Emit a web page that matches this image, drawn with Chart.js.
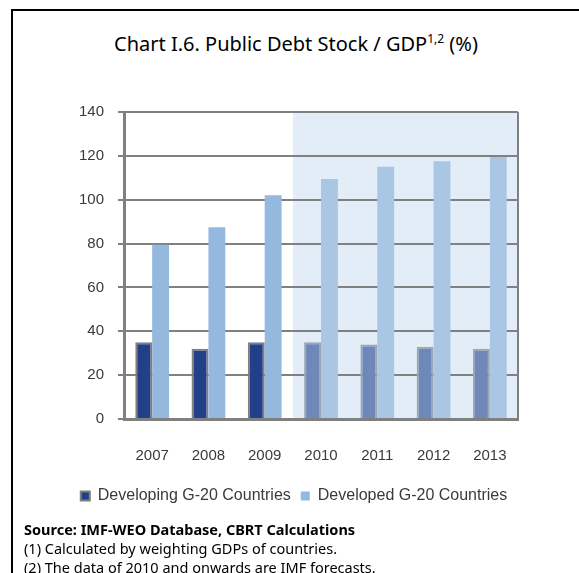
<!DOCTYPE html>
<html>
<head>
<meta charset="utf-8">
<script src="https://cdn.jsdelivr.net/npm/chart.js@4.4.0/dist/chart.umd.min.js"></script>
<style>
    body { margin: 0; background: #ffffff; width: 579px; height: 573px; overflow: hidden; position: relative; }
    .frame { position: absolute; left: 11px; top: 9px; width: 580px; height: 600px; border-left: 2px solid #000; border-top: 2px solid #000; }
    .title { position: absolute; left: 11px; width: 570px; top: 30px; text-align: center; font-family: 'Noto Sans', sans-serif; font-size: 20px; color: #000; }
    .title sup { font-size: 12px; }
    #wrap { position: absolute; left: 0; top: 0; width: 579px; height: 573px; }
    .notes { position: absolute; left: 24px; top: 520px; font-family: 'Noto Sans', sans-serif; font-size: 14.5px; color: #000; line-height: 19px; white-space: nowrap; }
    .notes b { font-size: 14.5px; }
</style>
</head>
<body>
<div class="frame"></div>
<div class="title">Chart I.6. Public Debt Stock / GDP<sup>1,2</sup> (%)</div>
<div id="wrap"><canvas id="debtChart"></canvas></div>
<div class="notes">
    <b>Source: IMF-WEO Database, CBRT Calculations</b><br>
    (1) Calculated by weighting GDPs of countries.<br>
    (2) The data of 2010 and onwards are IMF forecasts.
</div>
<script>
// Data
const years = ['2007', '2008', '2009', '2010', '2011', '2012', '2013'];
const developing = [35, 32, 35, 35, 34, 33, 32];
const developed = [79.5, 87.5, 102, 109.5, 115, 117.5, 119.5];
const firstForecast = 3; // 2010 onwards are IMF forecasts

document.addEventListener('DOMContentLoaded', function() {
    const colors = {
        dark: '#22408A',
        darkForecast: '#6E88B9',
        light: '#95B8DE',
        lightForecast: '#A9C7E5',
        grid: '#808080',
        shade: '#E3EDF7',
        text: '#3A3A3A'
    };

    // forecast band behind the grid
    const forecastBand = {
        id: 'forecastBand',
        beforeDraw(chart) {
            const { ctx, chartArea, scales } = chart;
            const x = scales.x;
            const start = (x.getPixelForTick(firstForecast - 1) + x.getPixelForTick(firstForecast)) / 2;
            ctx.save();
            ctx.fillStyle = colors.shade;
            ctx.fillRect(start, chartArea.top, chartArea.right - start, chartArea.bottom - chartArea.top);
            ctx.restore();
        },
        afterDatasetsDraw(chart) {
            const { ctx, chartArea } = chart;
            ctx.save();
            ctx.strokeStyle = colors.grid;
            ctx.lineWidth = 2;
            ctx.beginPath();
            ctx.moveTo(chartArea.right, chartArea.top);
            ctx.lineTo(chartArea.right, chartArea.bottom);
            ctx.stroke();
            ctx.restore();
        }
    };

    new Chart(document.getElementById('debtChart'), {
        type: 'bar',
        data: {
            labels: years,
            datasets: [{
                label: 'Developing G-20 Countries',
                data: developing,
                backgroundColor: c => c.dataIndex >= firstForecast ? colors.darkForecast : colors.dark,
                borderColor: c => c.dataIndex >= firstForecast ? '#9DA6B4' : '#7F7F7F',
                borderWidth: 2,
                categoryPercentage: 0.6,
                barPercentage: 1
            }, {
                label: 'Developed G-20 Countries',
                data: developed,
                backgroundColor: c => c.dataIndex >= firstForecast ? colors.lightForecast : colors.light,
                borderWidth: 0,
                categoryPercentage: 0.6,
                barPercentage: 1
            }]
        },
        options: {
            responsive: true,
            maintainAspectRatio: false,
            animation: false,
            layout: {
                padding: { left: 70, right: 61, top: 112, bottom: 59 }
            },
            plugins: {
                legend: {
                    position: 'bottom',
                    labels: {
                        boxWidth: 9,
                        boxHeight: 9,
                        padding: 10,
                        color: colors.text,
                        font: { family: "'Liberation Sans', sans-serif", size: 16 }
                    }
                },
                tooltip: { enabled: false }
            },
            scales: {
                y: {
                    min: 0,
                    max: 140,
                    afterFit: function(scale) { scale.width = 54; },
                    ticks: {
                        stepSize: 20,
                        padding: 14,
                        color: colors.text,
                        font: { family: "'Liberation Sans', sans-serif", size: 15 }
                    },
                    grid: { color: colors.grid, lineWidth: 2, tickLength: 6 },
                    border: { color: colors.grid, width: 3 }
                },
                x: {
                    afterFit: function(scale) { scale.height = 59; },
                    ticks: {
                        padding: 28,
                        color: colors.text,
                        font: { family: "'Liberation Sans', sans-serif", size: 15 }
                    },
                    grid: { display: false, drawTicks: false },
                    border: { color: colors.grid, width: 3 }
                }
            }
        },
        plugins: [forecastBand]
    });
});
</script>
</body>
</html>
